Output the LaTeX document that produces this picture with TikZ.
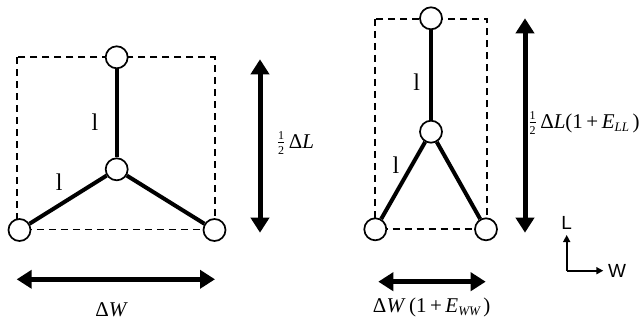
\documentclass[tikz,border=0pt]{standalone}
\usepackage{fontspec}
\usepackage{amsmath}
\setmainfont{Liberation Serif}
\newfontfamily\axisfont{Liberation Sans}
\usetikzlibrary{arrows.meta}
\newcommand{\halfstack}{\raisebox{0.1ex}{$\frac{\text{\fontsize{12}{12}\selectfont 1}}{\text{\fontsize{12}{12}\selectfont 2}}$}}
\newcommand{\lowsub}[1]{\raisebox{-0.35ex}{\fontsize{13}{13}\selectfont\itshape #1}}
\begin{document}
\begin{tikzpicture}[x=1pt,y=-1pt,
  joint/.style={circle,draw,fill=white,line width=1.7pt,minimum size=22pt,inner sep=0pt},
  bar/.style={line width=4pt},
  frame/.style={line width=1.8pt,dash pattern=on 7pt off 5pt},
  dim/.style={line width=5pt,{Triangle[length=15pt,width=18pt]}-{Triangle[length=15pt,width=18pt]}},
  lab/.style={font=\fontsize{21}{25}\selectfont,inner sep=0pt},
  barlab/.style={font=\fontsize{24}{28}\selectfont,inner sep=0pt},
  axis/.style={line width=1.6pt,-{Triangle[length=7pt,width=7pt]}},
  axlab/.style={font=\axisfont\fontsize{19}{21}\selectfont,inner sep=0pt}]
\useasboundingbox (0,0) rectangle (641,321);
% ---------- left (undeformed) ----------
\draw[frame] (17,57.3) rectangle (215,229.5);
\node[joint] (a1) at (116.7,57.3) {};
\node[joint] (b1) at (116.7,169.3) {};
\node[joint] (c1) at (19.5,230) {};
\node[joint] (d1) at (214.5,230) {};
\draw[bar] (a1) -- (b1);
\draw[bar] (b1) -- (c1);
\draw[bar] (b1) -- (d1);
\node[barlab] (l1a) at (95,122) {l};
\node[barlab] (l1b) at (59.3,181.7) {l};
\coordinate (v1t) at (260,59.3);
\coordinate (v1b) at (260,232.7);
\draw[dim] (v1t) -- (v1b);
\node[lab] (L1) at (295.5,143) {\halfstack\,Δ\textit{L}};
\coordinate (h1l) at (16.7,279.3);
\coordinate (h1r) at (215,279.3);
\draw[dim] (h1l) -- (h1r);
\node[lab] (W1) at (111.7,309.5) {Δ\textit{W}};
% ---------- right (deformed) ----------
\draw[frame] (375,19) rectangle (486.7,229.3);
\node[joint] (a2) at (431,18.3) {};
\node[joint] (b2) at (431,131.7) {};
\node[joint] (c2) at (375.3,229.3) {};
\node[joint] (d2) at (486,229.3) {};
\draw[bar] (a2) -- (b2);
\draw[bar] (b2) -- (c2);
\draw[bar] (b2) -- (d2);
\node[barlab] (l2a) at (416.7,81.7) {l};
\node[barlab] (l2b) at (396,165) {l};
\coordinate (v2t) at (525,18.3);
\coordinate (v2b) at (525,232.7);
\draw[dim] (v2t) -- (v2b);
\node[lab] (L2) at (584,123) {\halfstack\,Δ\textit{L}(1\,+\,\textit{E}\lowsub{LL}\,)};
\coordinate (h2l) at (378.3,281.7);
\coordinate (h2r) at (485.7,281.7);
\draw[dim] (h2l) -- (h2r);
\node[lab] (W2) at (431.7,307) {Δ\textit{W}\,(1\,+\,\textit{E}\lowsub{WW}\,)};
% ---------- axes ----------
\coordinate (o) at (566.7,270.7);
\coordinate (ou) at (566.7,235);
\coordinate (or) at (603.3,270.7);
\draw[axis] (o) -- (ou);
\draw[axis] (o) -- (or);
\node[axlab] (Lax) at (566.7,222.5) {L};
\node[axlab] (Wax) at (617,270.7) {W};
\end{tikzpicture}
\end{document}
